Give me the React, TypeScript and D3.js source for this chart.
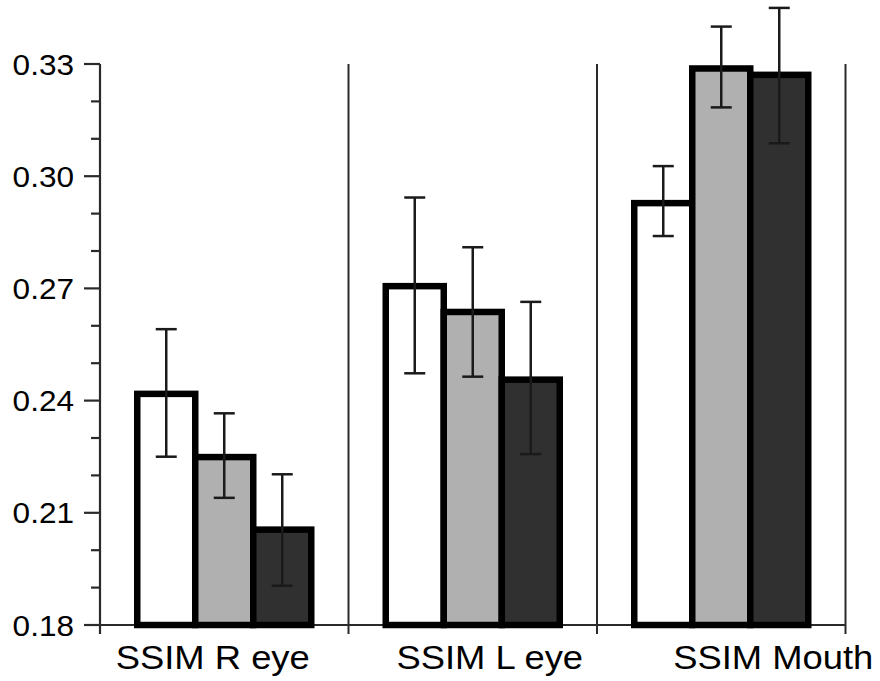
import React from "react";
import * as d3 from "d3";

const categories = ["SSIM R eye", "SSIM L eye", "SSIM Mouth"];
const seriesNames = ["A", "B", "C"];
const seriesFill = ["#ffffff", "#b0b0b0", "#303030"];

const meanA = [0.2418, 0.2706, 0.2928];
const meanB = [0.2249, 0.2637, 0.3288];
const meanC = [0.2055, 0.2456, 0.3271];

const lowA = [0.225, 0.2473, 0.284];
const highA = [0.2591, 0.2943, 0.3027];
const lowB = [0.214, 0.2464, 0.3184];
const highB = [0.2366, 0.281, 0.34];
const lowC = [0.1905, 0.2257, 0.3088];
const highC = [0.2203, 0.2664, 0.345];

const majorTicks = [0.18, 0.21, 0.24, 0.27, 0.3, 0.33];
const minorTicks = [0.19, 0.2, 0.22, 0.23, 0.25, 0.26, 0.28, 0.29, 0.31, 0.32];

const means = [meanA, meanB, meanC];
const lows = [lowA, lowB, lowC];
const highs = [highA, highB, highC];

// layout
const W = 880;
const H = 681;
const axisX = 100;
const rightX = 845.5;
const labelShift = [-11.5, 17, 52];
const hScale = 1.07;

export default function App() {
  const y = d3.scaleLinear().domain([0.18, 0.33]).range([625, 64]);
  const x = d3.scaleBand<string>().domain(categories).range([axisX, rightX]).padding(0);
  const xs = d3.scaleBand<string>().domain(seriesNames).range([-87, 87]).padding(0);
  const bw = xs.bandwidth();
  const fmt = d3.format(".2f");
  const font = "'Liberation Sans', Arial, Helvetica, sans-serif";

  return (
    <svg width={W} height={H} style={{ position: "absolute", left: 0, top: 0, background: "#fff" }}>
      {/* separators */}
      {categories.map((c) => (
        <line key={"sep" + c} x1={x(c)! + x.bandwidth()} x2={x(c)! + x.bandwidth()} y1={y(0.33)} y2={634} stroke="#2a2a2a" strokeWidth={2} />
      ))}
      {/* y axis */}
      <line x1={axisX} x2={axisX} y1={y(0.33)} y2={634} stroke="#2a2a2a" strokeWidth={2.2} />
      <line x1={axisX - 16} x2={rightX} y1={y(0.18)} y2={y(0.18)} stroke="#2a2a2a" strokeWidth={2} />
      {majorTicks.map((t) => (
        <g key={"mj" + t}>
          <line x1={axisX - 16} x2={axisX} y1={y(t)} y2={y(t)} stroke="#2a2a2a" strokeWidth={2.2} />
          <text
            transform={`translate(74,${y(t)}) scale(${hScale},1)`}
            dy="0.36em"
            textAnchor="end"
            fontFamily={font}
            fontSize={29.5}
            fill="#000"
          >
            {fmt(t)}
          </text>
        </g>
      ))}
      {minorTicks.map((t) => (
        <line key={"mn" + t} x1={axisX - 9} x2={axisX} y1={y(t)} y2={y(t)} stroke="#2a2a2a" strokeWidth={2.2} />
      ))}
      {/* bars */}
      {seriesNames.map((s, si) =>
        categories.map((c, ci) => {
          const cx = x(c)! + x.bandwidth() / 2 + xs(s)!;
          return (
            <rect
              key={"bar" + s + c}
              x={cx}
              width={bw}
              y={y(means[si][ci])}
              height={y(0.18) - y(means[si][ci])}
              fill={seriesFill[si]}
              stroke="#000"
              strokeWidth={6.5}
            />
          );
        })
      )}
      {/* error bars */}
      {seriesNames.map((s, si) =>
        categories.map((c, ci) => {
          const cx = x(c)! + x.bandwidth() / 2 + xs(s)! + bw / 2;
          const y1 = y(highs[si][ci]);
          const y2 = y(lows[si][ci]);
          return (
            <g key={"err" + s + c} stroke="#1a1a1a" strokeWidth={2.5}>
              <line x1={cx} x2={cx} y1={y1} y2={y2} />
              <line x1={cx - 10.5} x2={cx + 10.5} y1={y1} y2={y1} />
              <line x1={cx - 10.5} x2={cx + 10.5} y1={y2} y2={y2} />
            </g>
          );
        })
      )}
      {/* category labels */}
      {categories.map((c, ci) => (
        <text
          key={"lab" + c}
          transform={`translate(${x(c)! + x.bandwidth() / 2 + labelShift[ci]},669) scale(${hScale},1)`}
          textAnchor="middle"
          fontFamily={font}
          fontSize={34}
          fill="#000"
        >
          {c}
        </text>
      ))}
    </svg>
  );
}
